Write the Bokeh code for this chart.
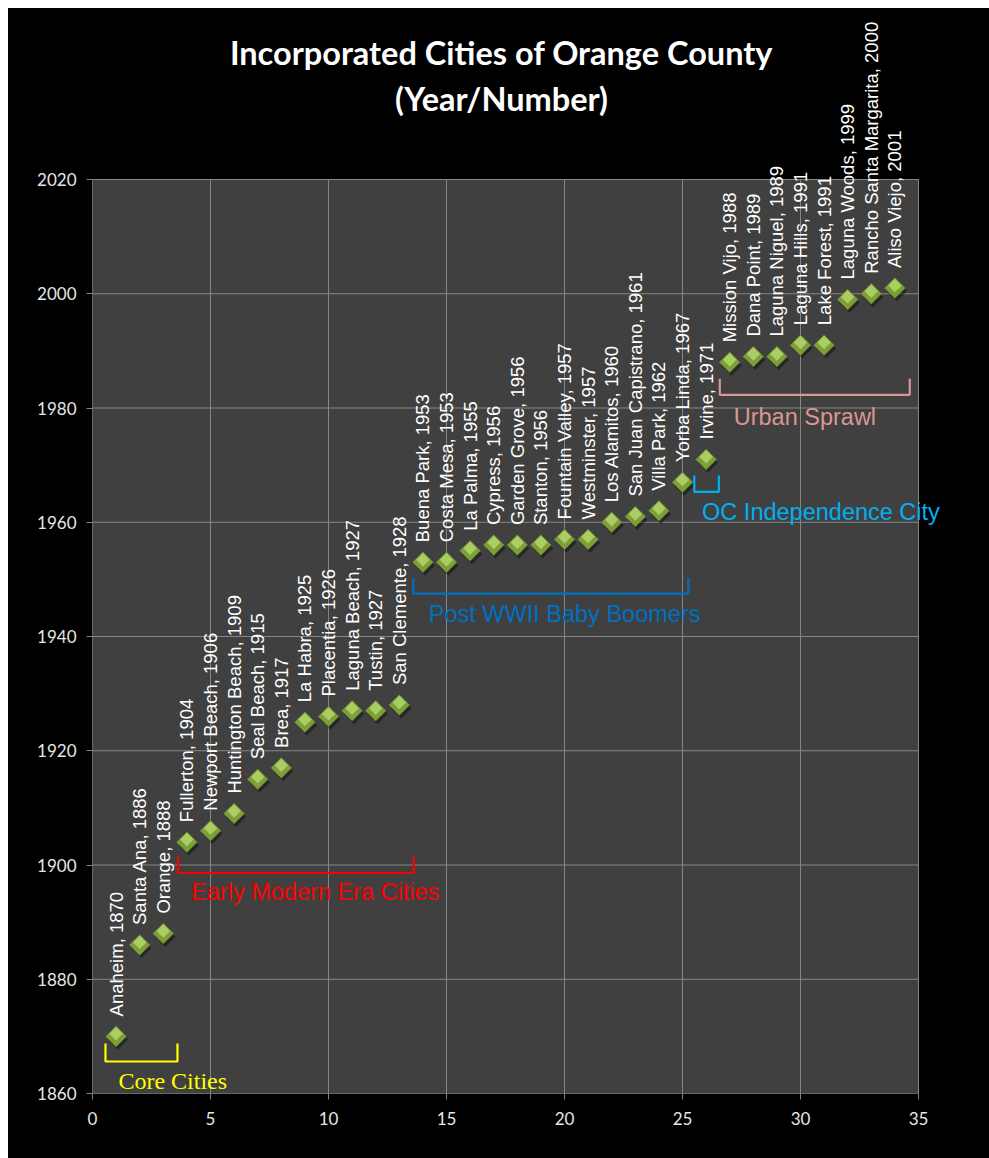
import math
from bokeh.plotting import figure
from bokeh.models import ColumnDataSource, LabelSet, Label, Range1d, FixedTicker, Spacer
from bokeh.layouts import column, row
from bokeh.core.properties import value
from bokeh.embed import file_html
from bokeh.resources import INLINE

# ---------------- data ----------------
city_number = [1, 2, 3, 4, 5, 6, 7, 8, 9, 10, 11, 12, 13, 14, 15, 16, 17,
               18, 19, 20, 21, 22, 23, 24, 25, 26, 27, 28, 29, 30, 31, 32, 33, 34]
city_name = ["Anaheim", "Santa Ana", "Orange", "Fullerton", "Newport Beach",
             "Huntington Beach", "Seal Beach", "Brea", "La Habra", "Placentia",
             "Laguna Beach", "Tustin", "San Clemente", "Buena Park", "Costa Mesa",
             "La Palma", "Cypress", "Garden Grove", "Stanton", "Fountain Valley",
             "Westminster", "Los Alamitos", "San Juan Capistrano", "Villa Park",
             "Yorba Linda", "Irvine", "Mission Vijo", "Dana Point", "Laguna Niguel",
             "Laguna Hills", "Lake Forest", "Laguna Woods", "Rancho Santa Margarita",
             "Aliso Viejo"]
city_year = [1870, 1886, 1888, 1904, 1906, 1909, 1915, 1917, 1925, 1926, 1927,
             1927, 1928, 1953, 1953, 1955, 1956, 1956, 1956, 1957, 1957, 1960,
             1961, 1962, 1967, 1971, 1988, 1989, 1989, 1991, 1991, 1999, 2000, 2001]

x_ticks = [0, 5, 10, 15, 20, 25, 30, 35]
y_ticks = [1860, 1880, 1900, 1920, 1940, 1960, 1980, 2000, 2020]

group_name = ["Core Cities", "Early Modern Era Cities", "Post WWII Baby Boomers",
              "OC Independence City", "Urban Sprawl"]
group_x0 = [0.55, 3.63, 13.59, 25.5, 26.58]
group_x1 = [3.6, 13.61, 25.25, 26.54, 34.63]
group_ytop = [1868.75, 1901.5, 1950.2, 1968.2, 1985.1]
group_ybot = [1865.6, 1898.6, 1947.5, 1965.3, 1982.3]
group_text_x = [1.10, 4.18, 14.25, 25.83, 27.17]
group_text_y = [1862.2, 1895.3, 1944.0, 1961.8, 1978.4]
group_color = ["#FFFF00", "#FF0000", "#0070C0", "#00B0F0", "#D99694"]
group_font = ["Liberation Serif", "Liberation Sans", "Liberation Sans",
              "Liberation Sans", "Liberation Sans"]
group_size = ["24px", "23.5px", "23.5px", "23.5px", "23.5px"]

title_lines = ["Incorporated Cities of Orange County", "(Year/Number)"]

# ---------------- figure ----------------
X0, X1 = 0, 35          # visible plot area in data units
Y0, Y1 = 1860, 2020
PX_X = 23.6             # px per x unit
PX_Y = 5.7125           # px per year
W, H = 981, 1150
LEFT, BOTTOM = 84, 65
x_end = X0 + (W - LEFT) / PX_X
y_end = Y0 + (H - BOTTOM) / PX_Y

p = figure(width=W, height=H, output_backend="svg", toolbar_location=None,
           x_range=Range1d(X0, x_end), y_range=Range1d(Y0, y_end),
           min_border_left=LEFT, min_border_right=0, min_border_top=0,
           min_border_bottom=BOTTOM)
p.styles = {"background-color": "black"}
p.border_fill_color = "black"
p.background_fill_color = "black"
p.outline_line_color = None
p.xgrid.visible = False
p.ygrid.visible = False

grid_col = "#868686"
p.xaxis.ticker = FixedTicker(ticks=x_ticks)
p.yaxis.ticker = FixedTicker(ticks=y_ticks)
p.axis.axis_line_color = None
p.axis.major_tick_line_color = grid_col
p.axis.minor_tick_line_color = None
p.axis.major_tick_in = 0
p.axis.major_tick_out = 6
p.axis.major_label_text_color = "#E6E6E6"
p.axis.major_label_text_font = "Lato"
p.axis.major_label_text_font_size = "17px"
p.yaxis.major_label_standoff = 10
p.xaxis.major_label_standoff = 12

# plot area background
p.quad(left=[X0], right=[X1], bottom=[Y0], top=[Y1], fill_color="#404040",
       line_color=grid_col, line_width=1)
# gridlines from tick values
p.segment(x0=x_ticks, x1=x_ticks, y0=[Y0] * len(x_ticks), y1=[Y1] * len(x_ticks),
          line_color=grid_col, line_width=1)
p.segment(x0=[X0] * len(y_ticks), x1=[X1] * len(y_ticks), y0=y_ticks, y1=y_ticks,
          line_color=grid_col, line_width=1)

src = ColumnDataSource(dict(
    x=city_number, y=city_year,
    xs=[v + 0.08 for v in city_number], ys=[v - 0.55 for v in city_year],
    yh=[v + 0.45 for v in city_year],
    label=[f"{n}, {y}" for n, y in zip(city_name, city_year)],
))

# shadow, body and highlight of the diamonds
p.scatter("xs", "ys", source=src, marker="square", size=14.5, angle=math.pi / 4,
          fill_color="black", fill_alpha=0.4, line_color=None)
p.scatter("x", "y", source=src, marker="square", size=14.5, angle=math.pi / 4,
          fill_color="#7E9F38", line_color="#718F30", line_width=0.6)
p.scatter("x", "yh", source=src, marker="square", size=9.5, angle=math.pi / 4,
          fill_color="#ADD066", fill_alpha=0.95, line_color=None)

labels = LabelSet(x="x", y="y", text="label", source=src, angle=math.pi / 2,
                  y_offset=20, text_align="left", text_baseline="middle",
                  text_color="white", text_font=value("Liberation Sans"),
                  text_font_size="18.5px")
p.add_layout(labels)

# group brackets
bx, by = [], []
for x0, x1, yt, yb in zip(group_x0, group_x1, group_ytop, group_ybot):
    bx.append([x0, x0, x1, x1])
    by.append([yt, yb, yb, yt])
p.multi_line(bx, by, line_color=group_color, line_width=2.2)

for name, tx, ty, col, fnt, sz in zip(group_name, group_text_x, group_text_y,
                                      group_color, group_font, group_size):
    p.add_layout(Label(x=tx, y=ty, text=name, text_color=col, text_font=fnt,
                       text_font_size=sz, text_align="left",
                       text_baseline="alphabetic"))

# title (two lines)
for txt, ty in zip(title_lines, (2042.2, 2034.2)):
    p.add_layout(Label(x=17.33, y=ty, text=txt, text_color="white",
                       text_font="Lato", text_font_style="bold",
                       text_font_size="32.5px",
                       text_align="center", text_baseline="alphabetic"))

page = column(Spacer(height=8), row(Spacer(width=8), p))
open("out.html", "w").write(file_html(page, INLINE))
